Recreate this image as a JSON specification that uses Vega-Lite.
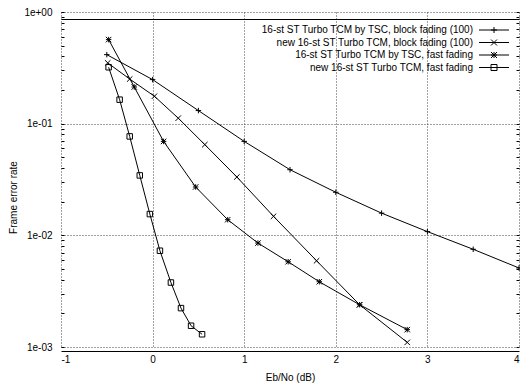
{
  "$schema": "https://vega.github.io/schema/vega-lite/v6.json",
  "width": 458,
  "height": 335,
  "autosize": "none",
  "padding": {"left": 61, "top": 12, "right": 1, "bottom": 40},
  "background": "white",
  "config": {
    "font": "Liberation Sans",
    "view": {"stroke": null},
    "axis": {"labelFont": "Liberation Sans", "titleFont": "Liberation Sans", "labelFontSize": 10, "titleFontSize": 10, "labelColor": "black", "titleColor": "black", "titleFontWeight": "normal", "tickColor": "black", "domainColor": "black"},
    "legend": {"labelFont": "Liberation Sans", "labelFontSize": 10, "labelColor": "black"}
  },
  "data": {
    "values": [
      {"series": "16-st ST Turbo TCM by TSC, block fading (100)", "x": -0.5, "y": 0.415},
      {"series": "16-st ST Turbo TCM by TSC, block fading (100)", "x": 0.0, "y": 0.248},
      {"series": "16-st ST Turbo TCM by TSC, block fading (100)", "x": 0.5, "y": 0.131},
      {"series": "16-st ST Turbo TCM by TSC, block fading (100)", "x": 1.0, "y": 0.0694},
      {"series": "16-st ST Turbo TCM by TSC, block fading (100)", "x": 1.5, "y": 0.0387},
      {"series": "16-st ST Turbo TCM by TSC, block fading (100)", "x": 2.0, "y": 0.0243},
      {"series": "16-st ST Turbo TCM by TSC, block fading (100)", "x": 2.5, "y": 0.0158},
      {"series": "16-st ST Turbo TCM by TSC, block fading (100)", "x": 3.0, "y": 0.0108},
      {"series": "16-st ST Turbo TCM by TSC, block fading (100)", "x": 3.5, "y": 0.0075},
      {"series": "16-st ST Turbo TCM by TSC, block fading (100)", "x": 4.0, "y": 0.0051},
      {"series": "new 16-st ST Turbo TCM, block fading (100)", "x": -0.49, "y": 0.35},
      {"series": "new 16-st ST Turbo TCM, block fading (100)", "x": -0.25, "y": 0.251},
      {"series": "new 16-st ST Turbo TCM, block fading (100)", "x": 0.02, "y": 0.176},
      {"series": "new 16-st ST Turbo TCM, block fading (100)", "x": 0.28, "y": 0.112},
      {"series": "new 16-st ST Turbo TCM, block fading (100)", "x": 0.57, "y": 0.0649},
      {"series": "new 16-st ST Turbo TCM, block fading (100)", "x": 0.92, "y": 0.0333},
      {"series": "new 16-st ST Turbo TCM, block fading (100)", "x": 1.32, "y": 0.0148},
      {"series": "new 16-st ST Turbo TCM, block fading (100)", "x": 1.79, "y": 0.00592},
      {"series": "new 16-st ST Turbo TCM, block fading (100)", "x": 2.26, "y": 0.00239},
      {"series": "new 16-st ST Turbo TCM, block fading (100)", "x": 2.78, "y": 0.0011},
      {"series": "16-st ST Turbo TCM by TSC, fast fading", "x": -0.48, "y": 0.566},
      {"series": "16-st ST Turbo TCM by TSC, fast fading", "x": -0.2, "y": 0.213},
      {"series": "16-st ST Turbo TCM by TSC, fast fading", "x": 0.12, "y": 0.0694},
      {"series": "16-st ST Turbo TCM by TSC, fast fading", "x": 0.47, "y": 0.0271},
      {"series": "16-st ST Turbo TCM by TSC, fast fading", "x": 0.82, "y": 0.0138},
      {"series": "16-st ST Turbo TCM by TSC, fast fading", "x": 1.15, "y": 0.00853},
      {"series": "16-st ST Turbo TCM by TSC, fast fading", "x": 1.48, "y": 0.0058},
      {"series": "16-st ST Turbo TCM by TSC, fast fading", "x": 1.82, "y": 0.00384},
      {"series": "16-st ST Turbo TCM by TSC, fast fading", "x": 2.26, "y": 0.00239},
      {"series": "16-st ST Turbo TCM by TSC, fast fading", "x": 2.78, "y": 0.00143},
      {"series": "new 16-st ST Turbo TCM, fast fading", "x": -0.48, "y": 0.32},
      {"series": "new 16-st ST Turbo TCM, fast fading", "x": -0.36, "y": 0.164},
      {"series": "new 16-st ST Turbo TCM, fast fading", "x": -0.25, "y": 0.0769},
      {"series": "new 16-st ST Turbo TCM, fast fading", "x": -0.14, "y": 0.0344},
      {"series": "new 16-st ST Turbo TCM, fast fading", "x": -0.03, "y": 0.0155},
      {"series": "new 16-st ST Turbo TCM, fast fading", "x": 0.08, "y": 0.00728},
      {"series": "new 16-st ST Turbo TCM, fast fading", "x": 0.2, "y": 0.00378},
      {"series": "new 16-st ST Turbo TCM, fast fading", "x": 0.31, "y": 0.00223},
      {"series": "new 16-st ST Turbo TCM, fast fading", "x": 0.42, "y": 0.00155},
      {"series": "new 16-st ST Turbo TCM, fast fading", "x": 0.54, "y": 0.0013}
    ]
  },
  "layer": [
    {
      "mark": {"type": "line", "strokeWidth": 1},
      "encoding": {
        "x": {"field": "x", "type": "quantitative", "scale": {"domain": [-1, 4], "nice": false, "zero": false},
          "axis": {"orient": "bottom", "values": [-1, 0, 1, 2, 3, 4], "grid": true, "gridDash": [1, 2], "gridColor": "#444", "gridOpacity": 1, "ticks": false, "domain": true, "domainWidth": 1, "offset": 4, "labelPadding": 3, "labelExpr": "'' + datum.value", "title": "Eb/No (dB)", "titlePadding": 8}},
        "y": {"field": "y", "type": "quantitative", "scale": {"type": "log", "domain": [0.001, 1], "nice": false},
          "axis": {"orient": "left", "values": [0.001, 0.002, 0.003, 0.004, 0.005, 0.006, 0.007, 0.008, 0.009, 0.01, 0.02, 0.03, 0.04, 0.05, 0.06, 0.07, 0.08, 0.09, 0.1, 0.2, 0.3, 0.4, 0.5, 0.6, 0.7, 0.8, 0.9, 1],
            "grid": true, "gridDash": [1, 2], "gridColor": "#444",
            "gridOpacity": {"condition": {"test": "datum.value == 0.001 || datum.value == 0.01 || datum.value == 0.1 || datum.value == 1", "value": 1}, "value": 0},
            "domain": false, "tickSize": -3, "labelPadding": 12,
            "labelExpr": "datum.value == 1 ? '1e+00' : datum.value == 0.1 ? '1e-01' : datum.value == 0.01 ? '1e-02' : datum.value == 0.001 ? '1e-03' : ''",
            "title": "Frame error rate", "titlePadding": 5, "titleY": 185}},
        "color": {
          "field": "series",
          "type": "nominal",
          "sort": null,
          "scale": {"range": ["black", "black", "black", "black"]},
          "legend": {
            "orient": "none",
            "legendX": 428,
            "legendY": 13,
            "title": null,
            "padding": 0,
            "symbolType": "M-5,0H5",
            "symbolSize": 36,
            "symbolStrokeColor": "black",
            "symbolStrokeWidth": 1,
            "labelAlign": "right",
            "labelOffset": -26,
            "labelLimit": 0,
            "labelOpacity": 0,
            "rowPadding": 2.5
          }
        }
      }
    },
    {
      "mark": {"type": "point", "filled": false, "stroke": "black", "strokeWidth": 1, "size": 30, "opacity": 1},
      "encoding": {
        "x": {"field": "x", "type": "quantitative",
          "axis": {"orient": "top", "grid": false, "labels": false, "ticks": false, "domain": true, "offset": -7, "title": null}},
        "y": {"field": "y", "type": "quantitative",
          "axis": {"orient": "right", "values": [0.001, 0.002, 0.003, 0.004, 0.005, 0.006, 0.007, 0.008, 0.009, 0.01, 0.02, 0.03, 0.04, 0.05, 0.06, 0.07, 0.08, 0.09, 0.1, 0.2, 0.3, 0.4, 0.5, 0.6, 0.7, 0.8, 0.9, 1], "grid": false, "labels": false, "domain": false, "tickSize": -3, "title": null}},
        "shape": {
          "field": "series",
          "type": "nominal",
          "sort": null,
          "scale": {
            "domain": ["16-st ST Turbo TCM by TSC, block fading (100)", "new 16-st ST Turbo TCM, block fading (100)", "16-st ST Turbo TCM by TSC, fast fading", "new 16-st ST Turbo TCM, fast fading"],
            "range": ["M-1,0H1M0,-1V1", "M-1,-1L1,1M-1,1L1,-1", "M-1,0H1M0,-1V1M-1,-1L1,1M-1,1L1,-1", "square"]
          },
          "legend": {
            "orient": "none",
            "legendX": 428,
            "legendY": 13,
            "title": null,
            "padding": 0,
            "symbolSize": 36,
            "symbolStrokeColor": "black",
            "symbolFillColor": "white",
            "symbolStrokeWidth": 1,
            "labelAlign": "right",
            "labelOffset": -26,
            "labelLimit": 0,
            "rowPadding": 2.5
          }
        }
      }
    }
  ]
}
